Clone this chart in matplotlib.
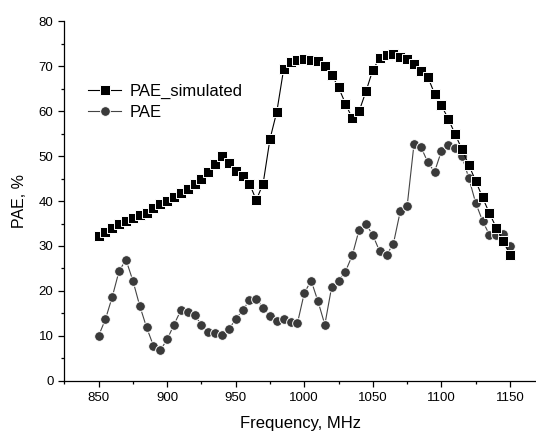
import matplotlib
matplotlib.use('Agg')
import matplotlib.pyplot as plt
from matplotlib.ticker import MultipleLocator

plt.rcParams['font.family'] = ['Liberation Sans', 'DejaVu Sans']

freq = [850, 855, 860, 865, 870, 875, 880, 885, 890, 895,
        900, 905, 910, 915, 920, 925, 930, 935, 940, 945,
        950, 955, 960, 965, 970, 975, 980, 985, 990, 995,
        1000, 1005, 1010, 1015, 1020, 1025, 1030, 1035, 1040, 1045,
        1050, 1055, 1060, 1065, 1070, 1075, 1080, 1085, 1090, 1095,
        1100, 1105, 1110, 1115, 1120, 1125, 1130, 1135, 1140, 1145,
        1150]

pae_sim = [32.2, 33.1, 34.0, 34.8, 35.5, 36.2, 36.8, 37.3, 38.5, 39.3,
           40.1, 40.9, 41.8, 42.7, 43.7, 44.9, 46.5, 48.3, 50.0, 48.4,
           46.7, 45.6, 43.9, 40.2, 43.9, 53.8, 59.9, 69.4, 70.9, 71.4,
           71.7, 71.4, 71.1, 70.0, 68.1, 65.3, 61.7, 58.4, 60.0, 64.4,
           69.2, 71.8, 72.5, 72.8, 72.0, 71.5, 70.4, 68.9, 67.7, 63.9,
           61.3, 58.3, 54.9, 51.5, 48.0, 44.5, 40.8, 37.3, 34.1, 31.1,
           28.1]

pae = [10.0, 13.7, 18.7, 24.5, 26.9, 22.3, 16.7, 11.9, 7.8, 6.8,
       9.2, 12.5, 15.7, 15.2, 14.6, 12.5, 10.9, 10.6, 10.3, 11.5,
       13.7, 15.7, 17.9, 18.3, 16.2, 14.4, 13.4, 13.7, 13.1, 12.8,
       19.5, 22.3, 17.7, 12.5, 20.9, 22.3, 24.3, 27.9, 33.6, 34.9,
       32.4, 28.8, 28.0, 30.5, 37.7, 38.8, 52.6, 52.1, 48.7, 46.5,
       51.1, 52.5, 51.8, 50.0, 45.1, 39.6, 35.6, 32.5, 32.5, 32.6,
       30.0]

fig = plt.figure(figsize=(5.36, 4.32), dpi=100)
ax = fig.add_axes([64.3 / 536, (432 - 380.8) / 432, 471.7 / 536, (380.8 - 21.3) / 432])

ax.plot(freq, pae_sim, color='black', lw=0.8, marker='s', ms=6.7,
        mfc='black', mec='white', mew=0.7, label='PAE_simulated', zorder=3)
ax.plot(freq, pae, color='#444444', lw=0.8, marker='o', ms=7.0,
        mfc='#3a3a3a', mec='white', mew=0.7, label='PAE', zorder=2)

ax.set_xlim(825, 1169)
ax.set_ylim(0, 80)
ax.xaxis.set_major_locator(MultipleLocator(50))
ax.xaxis.set_minor_locator(MultipleLocator(25))
ax.yaxis.set_major_locator(MultipleLocator(10))
ax.yaxis.set_minor_locator(MultipleLocator(5))

for s in ['top', 'right']:
    ax.spines[s].set_visible(False)
for s in ['left', 'bottom']:
    ax.spines[s].set_linewidth(0.9)

ax.tick_params(which='major', direction='out', length=4.3, width=0.9, labelsize=9.5, pad=3.5)
ax.tick_params(which='minor', direction='out', length=2.4, width=0.9)

ax.set_xlabel('Frequency, MHz', fontsize=12, labelpad=9)
ax.set_ylabel('PAE, %', fontsize=11.5, labelpad=8)

ax.legend(loc='center left', bbox_to_anchor=(88 / 536, 1 - 101.7 / 432),
          bbox_transform=fig.transFigure, frameon=False, fontsize=12,
          numpoints=1, handlelength=2.0, handletextpad=0.5, labelspacing=0.35,
          borderpad=0, borderaxespad=0)

fig.savefig('out.png', dpi=100)
